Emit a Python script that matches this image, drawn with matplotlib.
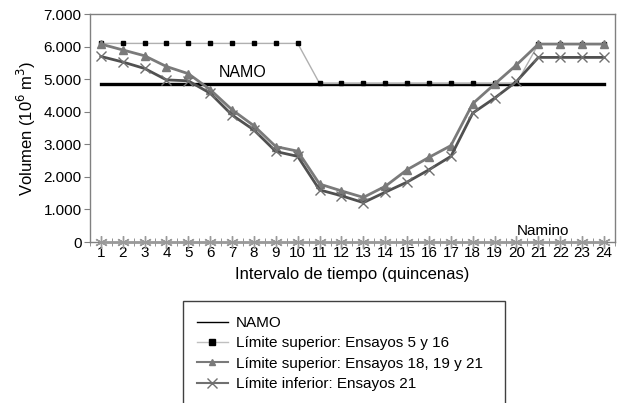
import numpy as np
import matplotlib.pyplot as plt
from matplotlib.patches import Rectangle
from matplotlib.lines import Line2D
from matplotlib.ticker import FuncFormatter

plt.rcParams['font.family'] = ['Liberation Sans', 'DejaVu Sans']

# quincenas 1..24
quincenas = np.arange(1, 25)

namo = [4850] * 24
namino = [0] * 24
sup_5_16 = [6100] * 10 + [4870] * 10 + [6080] * 4
sup_18_19_21 = [6080, 5900, 5720, 5390, 5170, 4680, 4060, 3570, 2930, 2790,
                1780, 1570, 1370, 1710, 2220, 2600, 2960, 4250, 4850, 5440,
                6080, 6080, 6080, 6080]
inf_21 = [5700, 5530, 5330, 4980, 4950, 4570, 3900, 3440, 2780, 2630,
          1600, 1420, 1210, 1530, 1840, 2220, 2630, 3960, 4420, 4930,
          5670, 5670, 5670, 5670]

labels = ["NAMO",
          "Límite superior: Ensayos 5 y 16",
          "Límite superior: Ensayos 18, 19 y 21",
          "Límite inferior: Ensayos 21"]

fig = plt.figure(figsize=(6.24, 4.03), dpi=100)
ax = fig.add_axes([0.144, 0.3995, 0.8415, 0.5655])

ax.plot(quincenas, namo, color='black', lw=2.4)
ax.plot(quincenas, sup_5_16, color='#b0b0b0', lw=1.0,
        marker='s', ms=3.5, mfc='black', mec='black')
ax.plot(quincenas, sup_18_19_21, color='#7a7a7a', lw=2.0,
        marker='^', ms=6, mfc='#7a7a7a', mec='#7a7a7a')
ax.plot(quincenas, inf_21, color='#505050', lw=2.0,
        marker='x', ms=7, mew=1.0, mec='#707070')
ax.plot(quincenas, namino, color='#9a9a9a', lw=2.0, marker=(6, 2, 0),
        ms=9, mew=1.0, mec='#9a9a9a', clip_on=False, zorder=5)

ax.text(7.5, 4980, "NAMO", ha='center', va='bottom', fontsize=11.5)
ax.text(21.2, 130, "Namino", ha='center', va='bottom', fontsize=11)

ax.set_xlim(0.5, 24.5)
ax.set_ylim(0, 7000)
ax.set_xticks(quincenas)
ax.set_xticks(np.arange(0.5, 25, 1), minor=True)
ax.tick_params(axis='x', which='major', length=0, pad=3, labelsize=11)
ax.tick_params(axis='x', which='minor', direction='inout', length=6,
               color='#808080')
ax.set_yticks(np.arange(0, 7001, 1000))
ax.yaxis.set_major_formatter(FuncFormatter(
    lambda v, p: f"{int(v):,}".replace(",", ".")))
ax.tick_params(axis='y', direction='out', length=4, color='#808080',
               labelsize=11, pad=2)
for sp in ax.spines.values():
    sp.set_color('#808080')
    sp.set_linewidth(1.0)

ax.set_xlabel("Intervalo de tiempo (quincenas)", fontsize=12, labelpad=5)
ax.set_ylabel("Volumen (10$^6$ m$^3$)", fontsize=12, labelpad=4)

# legend handles are drawn thinner than the plotted lines
handles = [
    Line2D([], [], color='black', lw=1.0),
    Line2D([], [], color='#c0c0c0', lw=1.0, marker='s', ms=4,
           mfc='black', mec='black'),
    Line2D([], [], color='#7a7a7a', lw=1.5, marker='^', ms=5,
           mfc='#7a7a7a', mec='#7a7a7a'),
    Line2D([], [], color='#707070', lw=1.5, marker='x', ms=7,
           mec='#707070'),
]

# legend box runs past the bottom of the picture
fig.patches.append(Rectangle((183 / 624, -0.1), (505 - 183) / 624,
                             (403 - 301) / 403 + 0.1, transform=fig.transFigure,
                             fill=False, edgecolor='#404040', lw=1.0))
fig.legend(handles=handles, labels=labels,
           loc='upper left', bbox_to_anchor=(197 / 624, 1 - 316 / 403),
           frameon=False, fontsize=11, handlelength=2.0, handletextpad=0.55,
           labelspacing=0.42, borderpad=0, borderaxespad=0)

fig.savefig("out.png", dpi=100)
